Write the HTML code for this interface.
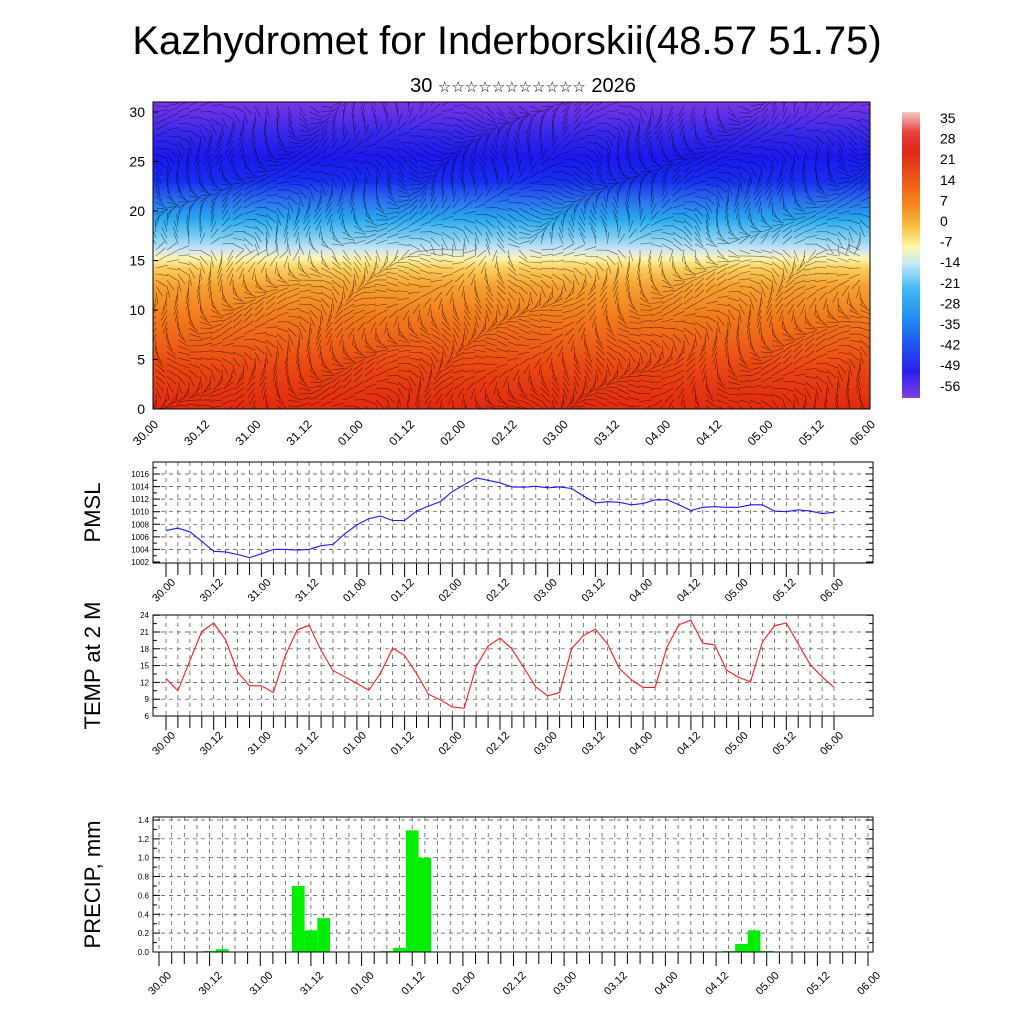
<!DOCTYPE html>
<html><head><meta charset="utf-8"><style>
html,body{margin:0;padding:0;background:#fff;}
svg{display:block;font-family:"Liberation Sans",sans-serif;}
</style></head><body>
<svg id="c" width="1024" height="1024" viewBox="0 0 1024 1024" xmlns="http://www.w3.org/2000/svg">
<defs>
<linearGradient id="tg" x1="0" y1="1" x2="0" y2="0">
<stop offset="0" stop-color="#e02a10"/>
<stop offset="0.15" stop-color="#ec4a14"/>
<stop offset="0.30" stop-color="#f27a1c"/>
<stop offset="0.40" stop-color="#f6a030"/>
<stop offset="0.46" stop-color="#fad060"/>
<stop offset="0.49" stop-color="#fff4b0"/>
<stop offset="0.52" stop-color="#c8e6f6"/>
<stop offset="0.57" stop-color="#70c8f2"/>
<stop offset="0.62" stop-color="#28a8f0"/>
<stop offset="0.68" stop-color="#2a70f0"/>
<stop offset="0.74" stop-color="#1830f0"/>
<stop offset="0.82" stop-color="#1a18ee"/>
<stop offset="0.90" stop-color="#3a28ea"/>
<stop offset="1" stop-color="#7a34e6"/>
</linearGradient>
<linearGradient id="cb" x1="0" y1="0" x2="0" y2="1">
<stop offset="0" stop-color="#f4c8c8"/>
<stop offset="0.07" stop-color="#e84040"/>
<stop offset="0.14" stop-color="#e02818"/>
<stop offset="0.24" stop-color="#ec5a18"/>
<stop offset="0.33" stop-color="#f48a20"/>
<stop offset="0.40" stop-color="#f8c040"/>
<stop offset="0.47" stop-color="#fff6a8"/>
<stop offset="0.53" stop-color="#c8e8f8"/>
<stop offset="0.62" stop-color="#40b8f0"/>
<stop offset="0.72" stop-color="#2090f0"/>
<stop offset="0.82" stop-color="#2050f0"/>
<stop offset="0.91" stop-color="#2a20f0"/>
<stop offset="1" stop-color="#8040e0"/>
</linearGradient>
<clipPath id="tclip"><rect x="153" y="102" width="717" height="307"/></clipPath>
</defs>
<text x="507" y="54" font-size="40" text-anchor="middle">Kazhydromet for Inderborskii(48.57 51.75)</text>
<text x="523" y="92" font-size="20" text-anchor="middle">30 <tspan font-size="15">☆☆☆☆☆☆☆☆☆☆☆</tspan> 2026</text>
<g id="topsec"></g>
<g id="cbar"></g>
<g id="p1"></g>
<g id="p2"></g>
<g id="p3"></g>
</svg>
<script>
const timeLabels=["30.00","30.12","31.00","31.12","01.00","01.12","02.00","02.12","03.00","03.12","04.00","04.12","05.00","05.12","06.00"];
const pmsl=[1007.0,1007.4,1006.8,1005.3,1003.7,1003.6,1003.2,1002.7,1003.3,1004.0,1004.0,1003.9,1004.0,1004.6,1004.8,1006.5,1007.9,1008.9,1009.3,1008.6,1008.6,1010.1,1010.9,1011.6,1013.2,1014.3,1015.4,1015.0,1014.6,1013.95,1013.9,1014.05,1013.8,1013.95,1013.7,1012.5,1011.4,1011.6,1011.5,1011.1,1011.3,1011.9,1011.9,1011.1,1010.2,1010.7,1010.8,1010.7,1010.7,1011.1,1011.1,1010.1,1010.0,1010.3,1010.1,1009.7,1009.9];
const temp2m=[12.7,10.5,15.9,21.1,22.6,19.6,13.9,11.4,11.4,10.2,16.8,21.4,22.2,17.7,14.1,13.0,11.8,10.6,13.7,18.1,16.8,13.6,9.9,8.9,7.6,7.4,14.8,18.5,19.9,18.0,14.6,11.2,9.6,10.2,18.0,20.4,21.5,18.9,14.5,12.5,11.1,11.1,18.3,22.3,23.1,19.0,18.7,14.2,12.9,12.1,19.2,22.1,22.6,18.9,15.2,13.0,11.1];
const precipIdx=[4,5,11,12,13,18,19,20,21,45,46,47,48];
const precipVal=[0.01,0.03,0.70,0.23,0.36,0.01,0.045,1.29,1.0,0.01,0.085,0.23,0.01];
const pmslTicks=[1002,1004,1006,1008,1010,1012,1014,1016];
const tempTicks=[6,9,12,15,18,21,24];
const precipTicks=[0,0.2,0.4,0.6,0.8,1.0,1.2,1.4];
const heightTicks=[0,5,10,15,20,25,30];
const cbarLabels=["35","28","21","14","7","0","-7","-14","-21","-28","-35","-42","-49","-56"];

(function(){
const NS="http://www.w3.org/2000/svg";
function mk(tag,attrs,parent,txt){const e=document.createElementNS(NS,tag);for(const k in attrs)e.setAttribute(k,attrs[k]);if(txt!==undefined)e.textContent=txt;parent.appendChild(e);return e;}

const sec=document.getElementById('topsec');
const TX0=153,TX1=870,TY0=102,TY1=409;
const hy=v=>409-v*9.9;
const r=mk('rect',{x:TX0,y:TY0,width:TX1-TX0,height:TY1-TY0,fill:'url(#tg)'},sec);


const bg=mk('g',{'clip-path':'url(#tclip)',stroke:'#000','stroke-width':'0.6','stroke-opacity':'0.6',fill:'none'},sec);


let d='';
for(let y=TY0+4;y<TY1;y+=6){for(let x=TX0+3;x<TX1;x+=11){
 const a=Math.sin(x*0.031+y*0.05)*1.3+Math.cos(x*0.013-y*0.02)*0.9+(y<250?0:1.4);
 const L=12;d+=`M${x.toFixed(1)} ${y.toFixed(1)}l${(L*Math.cos(a)).toFixed(1)} ${(L*Math.sin(a)).toFixed(1)}`;}}
mk('path',{d:d},bg);
mk('rect',{x:TX0,y:TY0,width:TX1-TX0,height:TY1-TY0,fill:'none',stroke:'#000','stroke-width':1},sec);
heightTicks.forEach(v=>{const y=hy(v);mk('line',{x1:TX0,x2:TX0+5,y1:y,y2:y,stroke:'#000'},sec);
 const t=mk('text',{x:TX0-8,y:y+5,'font-size':14,'text-anchor':'end'},sec,String(v));
 
 });
timeLabels.forEach((s,i)=>{const x=TX0+i*(TX1-TX0)/14;
 const t=mk('text',{x:x+6,y:425,'font-size':12,'text-anchor':'end',transform:`rotate(-45 ${x+6} 425)`},sec,s);
 
 });

const cb=document.getElementById('cbar');
mk('rect',{x:902,y:112,width:18,height:286,fill:'url(#cb)'},cb);
cbarLabels.forEach((s,i)=>{const t=mk('text',{x:940,y:123+i*20.6,'font-size':14},cb,s);
 
 });

function drawPanel(id,X0,X1,Y0,Y1,xA,xB,yAt,ticks,minor,title,tfmt,lx,ly){
 const g=document.getElementById(id);
 const sx=i=>xA+i*(xB-xA)/56;
 let gd='';
 for(let i=0;i<=56;i++){const x=sx(i);if(x<=X0||x>=X1)continue;gd+=`M${x.toFixed(1)} ${Y0}V${Y1}`;}
 ticks.forEach(v=>{const y=yAt(v);if(y>Y0+1&&y<Y1-1)gd+=`M${X0} ${y.toFixed(1)}H${X1}`;});
 mk('path',{d:gd,stroke:'#444','stroke-width':0.7,'stroke-dasharray':'4 4',fill:'none'},g);
 mk('rect',{x:X0,y:Y0,width:X1-X0,height:Y1-Y0,fill:'none',stroke:'#000','stroke-width':1},g);
 let td='';
 ticks.forEach(v=>{const y=yAt(v);td+=`M${X0} ${y}h7M${X1} ${y}h-7`;});
 minor.forEach(v=>{const y=yAt(v);td+=`M${X0} ${y}h4M${X1} ${y}h-4`;});
 for(let i=0;i<=56;i++){const x=sx(i);td+=`M${x.toFixed(1)} ${Y1}v${i%4==0?14:12}`;}
 mk('path',{d:td,stroke:'#000','stroke-width':1,fill:'none'},g);
 ticks.forEach(v=>{const t=mk('text',{x:X0-4,y:yAt(v)+3,'font-size':8,'text-anchor':'end'},g,tfmt(v));
  
  });
 timeLabels.forEach((s,k)=>{const x=sx(k*4)+lx,y=Y1+ly;
  const t=mk('text',{x:x,y:y,'font-size':11,'text-anchor':'end',transform:`rotate(-45 ${x} ${y})`},g,s);
  
  });
 const cy=(Y0+Y1)/2;
 const t=mk('text',{x:0,y:0,'font-size':22,'text-anchor':'middle',transform:`translate(100 ${cy}) rotate(-90)`},g,title);
 
 
 return {g,sx};
}
{const yAt=v=>562-(v-1002)*6.285;
 const minor=[];for(let v=1003;v<1018;v+=2)minor.push(v);
 const p=drawPanel('p1',153,873,462,563,166,834,yAt,pmslTicks,minor,'PMSL',v=>String(v),10,20);
 const pts=pmsl.map((v,i)=>p.sx(i).toFixed(1)+','+yAt(v).toFixed(1)).join(' ');
 const l=mk('polyline',{points:pts,fill:'none',stroke:'#1a1aff','stroke-width':1.1},p.g);
 
 }
{const yAt=v=>716-(v-6)*5.6;
 const minor=[];for(let v=7.5;v<24;v+=3)minor.push(v);
 const p=drawPanel('p2',153,873,615,716,166,834,yAt,tempTicks,minor,'TEMP at 2 M',v=>String(v),10,20);
 const pts=temp2m.map((v,i)=>p.sx(i).toFixed(1)+','+yAt(v).toFixed(1)).join(' ');
 const l=mk('polyline',{points:pts,fill:'none',stroke:'#ff1a1a','stroke-width':1.1},p.g);
 
 }
{const yAt=v=>952-v*94.3;
 const minor=[];for(let v=0.1;v<1.4;v+=0.2)minor.push(+v.toFixed(1));
 const p=drawPanel('p3',153,873,817,952,159,868,yAt,precipTicks,minor,'PRECIP, mm',v=>v.toFixed(1),13,24);
 const w=(868-159)/56;
 precipIdx.forEach((k,j)=>{const x=p.sx(k)-w/2,y=yAt(precipVal[j]);
  const b=mk('rect',{x:x.toFixed(1),y:y.toFixed(1),width:w.toFixed(1),height:(952-y).toFixed(1),fill:'#00ee00'},p.g);
  
  });
 mk('line',{x1:153,x2:873,y1:952,y2:952,stroke:'#000'},p.g);}
})();
</script>
</body></html>
